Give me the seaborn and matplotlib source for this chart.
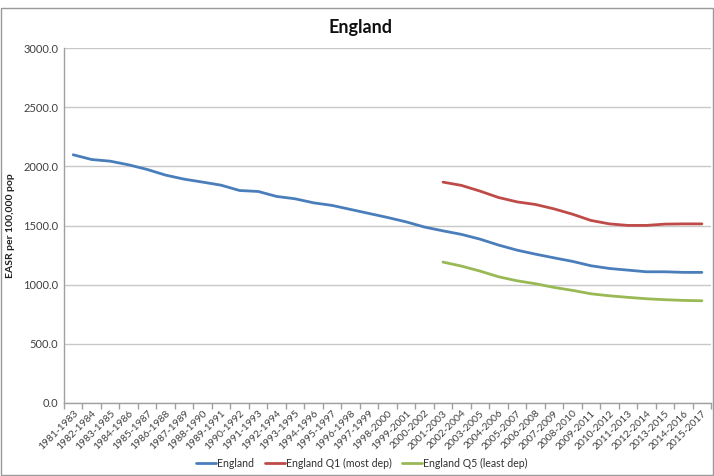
import numpy as np
import pandas as pd
import matplotlib
matplotlib.use("Agg")
import matplotlib.pyplot as plt
import seaborn as sns

# ---------------------------------------------------------------------------
# Data
# ---------------------------------------------------------------------------
periods = [f"{y}-{y + 2}" for y in range(1981, 2016)]

england = [2098, 2058, 2044, 2013, 1974, 1926, 1892, 1867, 1841, 1796,
           1788, 1746, 1726, 1692, 1670, 1636, 1602, 1568, 1531, 1487,
           1455, 1425, 1385, 1335, 1292, 1258, 1227, 1197, 1160, 1137,
           1123, 1109, 1109, 1104, 1104]

# deprivation quintiles only from 2001-2003 onwards
q1_most_dep = [1867, 1839, 1791, 1737, 1700, 1678, 1641, 1596, 1543, 1514,
               1501, 1501, 1512, 1514, 1514]
q5_least_dep = [1191, 1157, 1115, 1067, 1033, 1008, 977, 952, 923, 906,
                893, 881, 873, 867, 864]

series_names = ["England", "England Q1 (most dep)", "England Q5 (least dep)"]
palette = ["#4A7EBB", "#BE4B48", "#98B954"]

pad = [np.nan] * (len(periods) - len(q1_most_dep))
wide = pd.DataFrame({
    "pos": np.arange(len(periods)),
    series_names[0]: england,
    series_names[1]: pad + q1_most_dep,
    series_names[2]: pad + q5_least_dep,
})
long = wide.melt(id_vars="pos", var_name="series", value_name="value").dropna()

# ---------------------------------------------------------------------------
# Plot
# ---------------------------------------------------------------------------
sns.set_theme(style="white")
plt.rcParams["font.family"] = ["Lato", "DejaVu Sans"]

fig = plt.figure(figsize=(7.14, 4.76), dpi=100)
ax = fig.add_axes([0.0896, 0.1534, 0.9064, 0.7456])

sns.lineplot(data=long, x="pos", y="value", hue="series",
             hue_order=series_names, palette=palette, linewidth=2.0,
             ax=ax, legend=False)

ax.set_xlim(-0.5, len(periods) - 0.5)
ax.set_ylim(0, 3000)
ax.set_yticks(np.arange(0, 3001, 500))
ax.set_yticklabels([f"{v:.1f}" for v in np.arange(0, 3001, 500)],
                   fontsize=8, color="#404040")
ax.yaxis.grid(True, color="#C8C8C8", linewidth=1.0)
ax.set_axisbelow(True)

ax.set_xticks(np.arange(len(periods)))
ax.set_xticklabels(periods, rotation=45, ha="right", rotation_mode="anchor",
                   fontsize=7.4, color="#404040")
ax.set_xticks(np.arange(-0.5, len(periods)), minor=True)
ax.tick_params(axis="x", which="major", length=0, pad=4)
ax.tick_params(axis="x", which="minor", length=4, color="#A0A0A0",
               direction="out", bottom=True)
ax.tick_params(axis="y", length=0, pad=4)

for side in ["top", "right"]:
    ax.spines[side].set_visible(False)
for side in ["left", "bottom"]:
    ax.spines[side].set_color("#A0A0A0")
    ax.spines[side].set_linewidth(1.0)

ax.set_xlabel("")
ax.set_ylabel("EASR per 100,000 pop", fontsize=7.5, fontweight="bold",
              color="#202020", labelpad=6)

fig.text(0.505, 0.943, "England", ha="center", va="center",
         fontsize=13, fontweight="bold", color="#101010")

handles = [plt.Line2D([], [], color=c, linewidth=2.0) for c in palette]
fig.legend(handles, series_names, loc="center", bbox_to_anchor=(0.507, 0.027),
           ncol=3, frameon=False, fontsize=7.6, handlelength=1.9,
           handletextpad=0.1, columnspacing=1.0, labelcolor="#303030")

# chart area border
fig.patches.append(plt.Rectangle((0.002, 0.002), 0.996, 0.981,
                                 transform=fig.transFigure, fill=False,
                                 edgecolor="#999999", linewidth=1.0))

fig.savefig("out.png", dpi=100, facecolor="white")
